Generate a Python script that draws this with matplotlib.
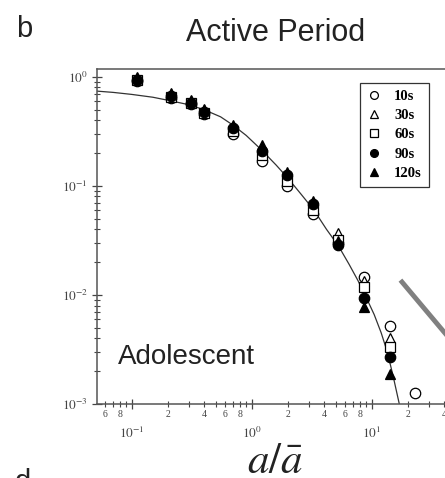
import numpy as np
import matplotlib
matplotlib.use('Agg')
import matplotlib.pyplot as plt
from matplotlib.ticker import LogLocator, FuncFormatter, NullFormatter
from matplotlib.lines import Line2D

plt.rcParams['mathtext.fontset'] = 'stix'

# data
x_bins = [0.110, 0.212, 0.311, 0.40, 0.70, 1.22, 1.97, 3.25, 5.26, 8.67, 14.3, 23.0]
p_10s = [0.92, 0.64, 0.56, 0.46, 0.30, 0.17, 0.100, 0.055, 0.030, 0.0145, 0.0052, 0.00125]
p_30s = [0.97, 0.70, 0.60, 0.50, 0.34, 0.20, 0.118, 0.065, 0.037, 0.0135, 0.0040, np.nan]
p_60s = [0.93, 0.66, 0.57, 0.47, 0.32, 0.19, 0.110, 0.060, 0.032, 0.0118, 0.0033, np.nan]
p_90s = [0.94, 0.67, 0.58, 0.48, 0.34, 0.21, 0.125, 0.068, 0.029, 0.0093, 0.0027, np.nan]
p_120s = [1.00, 0.71, 0.61, 0.51, 0.36, 0.235, 0.135, 0.072, 0.031, 0.0077, 0.0019, np.nan]

# fitted curve, points
curve_x = [0.051, 0.07, 0.1, 0.15, 0.2, 0.3, 0.4, 0.55, 0.7, 0.9, 1.2, 1.6, 2.0, 2.6,
           3.3, 4.2, 5.3, 6.5, 7.7, 9.0, 10.5, 12.0, 13.5, 15.1, 17.0]
curve_y = [0.74, 0.72, 0.69, 0.65, 0.61, 0.555, 0.50, 0.43, 0.36, 0.29, 0.215, 0.155, 0.118, 0.083,
           0.060, 0.040, 0.028, 0.019, 0.0135, 0.0095, 0.0066, 0.0045, 0.003, 0.0018, 0.001]

W, H = 445, 478
fig = plt.figure(figsize=(W / 100, H / 100), dpi=100)
# axes extends past the right edge (cropped panel)
ax = fig.add_axes([97 / W, 74 / H, 368 / W, 335 / H])

ax.plot(curve_x, curve_y, '-', color='#333333', lw=0.9, zorder=2)

series = [
    (p_10s, 'o', 'white', '10s'),
    (p_30s, '^', 'white', '30s'),
    (p_60s, 's', 'white', '60s'),
    (p_90s, 'o', 'black', '90s'),
    (p_120s, '^', 'black', '120s'),
]
for vals, m, fc, lab in series:
    ax.plot(x_bins, vals, ls='none', marker=m, ms=7.5, mfc=fc, mec='black', mew=0.9,
            label=lab, zorder=3)

ax.set_xscale('log')
ax.set_yscale('log')
ax.set_xlim(0.0513, 60)
ax.set_ylim(1e-3, 1.18)

for s in ax.spines.values():
    s.set_color('#555555')
    s.set_linewidth(1.1)

ax.xaxis.set_major_locator(LogLocator(base=10))
ax.xaxis.set_minor_locator(LogLocator(base=10, subs=np.arange(2, 10)))
ax.yaxis.set_major_locator(LogLocator(base=10))
ax.yaxis.set_minor_locator(LogLocator(base=10, subs=np.arange(2, 10)))


def major_fmt(v, pos):
    return r'$10^{%d}$' % int(round(np.log10(v)))


def minor_fmt(v, pos):
    m = v / 10 ** np.floor(np.log10(v) + 1e-9)
    m = int(round(m))
    return str(m) if m in (2, 4, 6, 8) else ''


ax.xaxis.set_major_formatter(FuncFormatter(major_fmt))
ax.xaxis.set_minor_formatter(FuncFormatter(minor_fmt))
ax.yaxis.set_major_formatter(FuncFormatter(major_fmt))
ax.yaxis.set_minor_formatter(NullFormatter())

ax.tick_params(which='major', direction='inout', length=7, width=0.9, color='#444444',
               labelcolor='#444444', labelsize=9.5)
ax.tick_params(which='minor', direction='inout', length=4, width=0.8, color='#444444',
               labelcolor='#444444', labelsize=7)
ax.tick_params(axis='x', which='major', pad=12)
ax.tick_params(axis='x', which='minor', pad=2)
ax.tick_params(axis='y', which='major', pad=3)
ax.tick_params(top=False, right=False, which='both')
for lbl in ax.get_xticklabels(minor=True):
    lbl.set_family('Liberation Serif')

leg = ax.legend(loc='upper left', bbox_to_anchor=(263 / 368, 1 - 14 / 335),
                frameon=True, fancybox=False, edgecolor='#333333', framealpha=1,
                prop={'family': 'Liberation Serif', 'size': 10.5, 'weight': 'bold'},
                handlelength=1.0, handletextpad=0.9, labelspacing=0.42,
                borderpad=0.45, borderaxespad=0, markerscale=0.75)
leg.get_frame().set_linewidth(0.9)

ax.text((118 - 97) / 368, 1 - (357 - 69) / 335, 'Adolescent', transform=ax.transAxes,
        family='Liberation Sans', fontsize=20, color='#222222', va='center', ha='left')

fig.text(16 / W, 1 - 37 / H, 'b', family='Liberation Sans', fontsize=21, color='#222222')
fig.text(276 / W, 1 - 41 / H, 'Active Period', family='Liberation Sans', fontsize=22,
         color='#222222', ha='center')
fig.text(275 / W, 1 - 473 / H, r'$a/\bar{a}$', fontsize=31, color='#222222', ha='center',
         va='baseline')
fig.text(15 / W, 1 - 490 / H, 'd', family='Liberation Sans', fontsize=21, color='#222222')

# grey stroke from the neighbouring panel
fig.add_artist(Line2D([402 / W, 460 / W], [1 - 282 / H, 1 - 351 / H],
                      transform=fig.transFigure, color='#808080', lw=3.5))

fig.savefig('out.png', dpi=100)
